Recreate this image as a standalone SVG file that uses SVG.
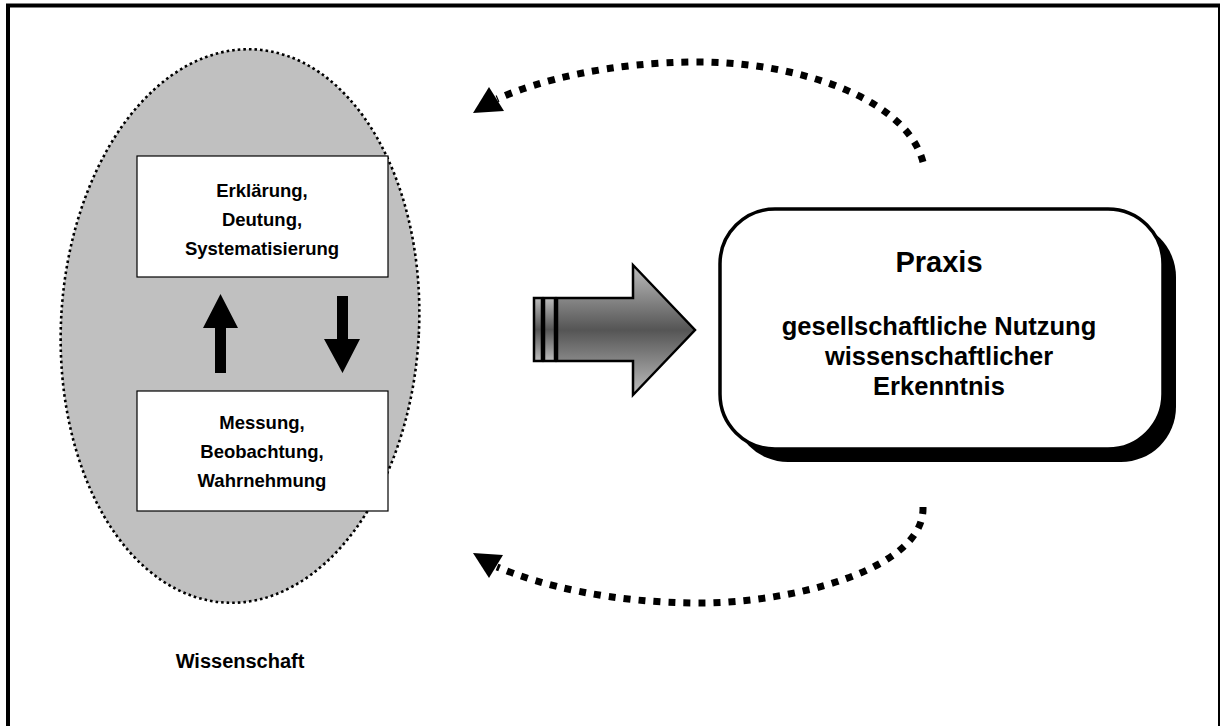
<svg xmlns="http://www.w3.org/2000/svg" width="1220" height="726" viewBox="0 0 1220 726">
  <defs>
    <style>
      .lbl { font-family: "Liberation Sans", Arial, sans-serif; font-weight: bold; fill: #000; text-anchor: middle; }
      .box { fill: #fff; stroke: #000; stroke-width: 1.2; }
      .loop { fill: none; stroke: #000; stroke-width: 7; stroke-dasharray: 7 8; }
    </style>
    <linearGradient id="shaftGrad" x1="0" y1="0" x2="0" y2="1">
      <stop offset="0" stop-color="#bdbdbd"/>
      <stop offset="0.5" stop-color="#555"/>
      <stop offset="1" stop-color="#bdbdbd"/>
    </linearGradient>
  </defs>

  <rect width="1220" height="726" fill="#fff"/>
  <!-- outer frame -->
  <rect x="8" y="5.5" width="1212" height="740" fill="none" stroke="#000" stroke-width="4"/>

  <!-- Wissenschaft -->
  <g id="wissenschaft">
    <ellipse cx="240" cy="326" rx="179" ry="277" transform="rotate(3 240 326)" fill="#c0c0c0" stroke="#000" stroke-width="2.6" stroke-dasharray="2.6 3"/>
    <text class="lbl" x="240" y="668" font-size="20">Wissenschaft</text>
  </g>

  <g id="erklaerung">
    <rect class="box" x="137" y="156" width="251" height="121"/>
    <text class="lbl" x="262" y="197" font-size="18.5">Erklärung,</text>
    <text class="lbl" x="262" y="226" font-size="18.5">Deutung,</text>
    <text class="lbl" x="262" y="255" font-size="18.5">Systematisierung</text>
  </g>

  <g id="messung">
    <rect class="box" x="137" y="391" width="251" height="120"/>
    <text class="lbl" x="262" y="429" font-size="18.5">Messung,</text>
    <text class="lbl" x="262" y="458" font-size="18.5">Beobachtung,</text>
    <text class="lbl" x="262" y="487" font-size="18.5">Wahrnehmung</text>
  </g>

  <!-- Praxis -->
  <g id="praxis">
    <rect x="733" y="222" width="443" height="240" rx="55" fill="#000"/>
    <rect x="720" y="209" width="443" height="240" rx="55" fill="#fff" stroke="#000" stroke-width="3.5"/>
    <text class="lbl" x="939" y="272" font-size="29">Praxis</text>
    <text class="lbl" x="939" y="335" font-size="25.5">gesellschaftliche Nutzung</text>
    <text class="lbl" x="939" y="365" font-size="25.5">wissenschaftlicher</text>
    <text class="lbl" x="939" y="395" font-size="25.5">Erkenntnis</text>
  </g>

  <g id="connectors">
    <!-- up / down arrows between the two boxes -->
    <polygon points="215,373 215,328 203,328 220.5,294 238,328 226,328 226,373" fill="#000"/>
    <polygon points="337,296 348,296 348,339 360,339 342.5,373 324,339 337,339" fill="#000"/>

    <!-- big transfer arrow -->
    <rect x="534" y="298" width="8" height="63" fill="url(#shaftGrad)" stroke="#000" stroke-width="2.5"/>
    <rect x="544" y="298" width="11" height="63" fill="url(#shaftGrad)" stroke="#000" stroke-width="2.5"/>
    <polygon points="557,298 633,298 633,265 695,330 633,395 633,361 557,361" fill="url(#shaftGrad)" stroke="#000" stroke-width="2.5" stroke-linejoin="miter"/>

    <!-- feedback loops -->
    <path class="loop" d="M923,162 C905,95 790,62 700,62 C610,62 540,80 497,99"/>
    <polygon points="473,113 489,87 504,111" fill="#000"/>
    <path class="loop" d="M923,507 C925,570 790,603 700,603 C610,603 540,585 497,567"/>
    <polygon points="473,553 503,555 489,578" fill="#000"/>
  </g>
</svg>
